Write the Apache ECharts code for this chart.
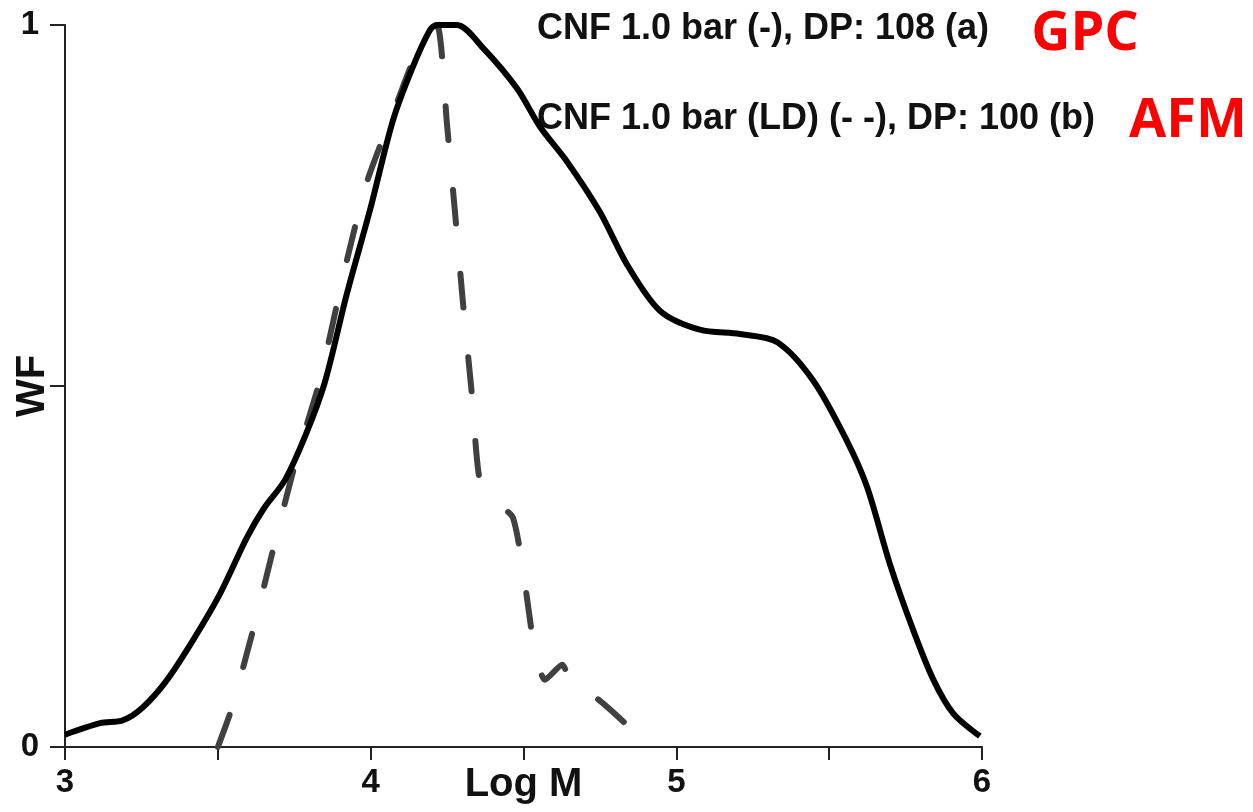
<!DOCTYPE html>
<html>
<head>
<meta charset="utf-8">
<script src="https://cdn.jsdelivr.net/npm/echarts@6/dist/echarts.min.js"></script>
<style>
  html, body { margin: 0; padding: 0; background: #fff; }
  #main { width: 1253px; height: 812px; }
</style>
</head>
<body>
<div id="main"></div>
<script>
// GPC curve (solid)
var gpcLogM = [3.000, 3.115, 3.190, 3.255, 3.334, 3.419, 3.507, 3.595, 3.650, 3.720, 3.790, 3.850,
  3.923, 3.998, 4.073, 4.138, 4.194, 4.217, 4.282, 4.368, 4.479, 4.554, 4.642, 4.750, 4.839,
  4.947, 5.077, 5.208, 5.329, 5.447, 5.558, 5.624, 5.699, 5.774, 5.840, 5.905, 5.993];
var gpcWF = [0.017, 0.033, 0.037, 0.055, 0.093, 0.148, 0.212, 0.290, 0.330, 0.370, 0.435, 0.505,
  0.629, 0.744, 0.868, 0.942, 0.993, 1.000, 1.000, 0.968, 0.912, 0.859, 0.811, 0.741, 0.668,
  0.604, 0.578, 0.572, 0.561, 0.508, 0.424, 0.360, 0.253, 0.163, 0.094, 0.047, 0.015];

// AFM curve (dashed)
var afmLogM = [3.500, 3.546, 3.622, 3.694, 3.759, 3.834, 3.916, 3.988, 4.089, 4.161, 4.217,
  4.250, 4.276, 4.302, 4.332, 4.364, 4.466, 4.538, 4.570, 4.626, 4.668, 4.734, 4.832];
var afmWF = [0.000, 0.054, 0.173, 0.296, 0.402, 0.508, 0.663, 0.783, 0.896, 0.972, 1.000,
  0.861, 0.740, 0.615, 0.485, 0.356, 0.317, 0.130, 0.093, 0.114, 0.076, 0.069, 0.033];

var xTickLabels = [3, 4, 5, 6];
var yTickLabels = [0, 1];
var legendA = 'CNF 1.0 bar (-), DP: 108 (a)';
var legendB = 'CNF 1.0 bar (LD) (- -), DP: 100 (b)';
var tagA = 'GPC';
var tagB = 'AFM';

function pairs(xs, ys) {
  var out = [];
  for (var i = 0; i < xs.length; i++) out.push([xs[i], ys[i]]);
  return out;
}

var FONT = '"Liberation Sans", Arial, sans-serif';
var myChart = echarts.init(document.getElementById('main'));

var option = {
  animation: false,
  grid: { left: 65, right: 271, top: 25, bottom: 65, containLabel: false, outerBoundsMode: 'none' },
  xAxis: {
    type: 'value', min: 3, max: 6, interval: 0.5,
    name: 'Log M', nameLocation: 'middle', nameGap: 18, nameMoveOverlap: false,
    nameTextStyle: { fontFamily: FONT, fontWeight: 'bold', fontSize: 40, color: '#111', verticalAlign: 'top' },
    axisLine: { lineStyle: { color: '#222', width: 2 } },
    axisTick: { length: 13, lineStyle: { color: '#222', width: 2 } },
    splitLine: { show: false },
    axisLabel: {
      margin: 19, fontFamily: FONT, fontWeight: 'bold', fontSize: 33, color: '#111',
      formatter: function (v) { return xTickLabels.indexOf(v) >= 0 ? String(v) : ''; }
    }
  },
  yAxis: {
    type: 'value', min: 0, max: 1, interval: 0.5,
    name: 'WF', nameLocation: 'middle', nameGap: 12, nameRotate: 90, nameMoveOverlap: false,
    nameTextStyle: { fontFamily: FONT, fontWeight: 'bold', fontSize: 40, color: '#111' },
    axisLine: { show: true, lineStyle: { color: '#222', width: 2 } },
    axisTick: { show: true, length: 15, lineStyle: { color: '#222', width: 2 } },
    splitLine: { show: false },
    axisLabel: {
      margin: 26, fontFamily: FONT, fontWeight: 'bold', fontSize: 33, color: '#111',
      formatter: function (v) { return yTickLabels.indexOf(v) >= 0 ? String(v) : ''; }
    }
  },
  series: [
    {
      name: tagA, type: 'line', data: pairs(gpcLogM, gpcWF),
      smooth: 0.3, showSymbol: false, z: 3,
      lineStyle: { color: '#000', width: 6 }
    },
    {
      name: tagB, type: 'line', data: pairs(afmLogM, afmWF),
      smooth: 0.2, showSymbol: false, z: 2,
      lineStyle: { color: '#404040', width: 6, type: [34, 50], cap: 'round' }
    }
  ],
  graphic: [
    { type: 'text', x: 537, y: 29, style: { text: legendA, font: 'bold 36px ' + FONT, fill: '#111', align: 'left', verticalAlign: 'middle' } },
    { type: 'text', x: 537, y: 119, style: { text: legendB, font: 'bold 36px ' + FONT, fill: '#111', align: 'left', verticalAlign: 'middle' } },
    { type: 'text', x: 1085, y: 35, style: { text: tagA, font: 'bold 54px "Open Sans", sans-serif', fill: '#ff0000', align: 'center', verticalAlign: 'middle' } },
    { type: 'text', x: 1188, y: 122, style: { text: tagB, font: 'bold 54px "Open Sans", sans-serif', fill: '#ff0000', align: 'center', verticalAlign: 'middle' } }
  ]
};

myChart.setOption(option);
window.addEventListener('resize', function () { myChart.resize(); });
</script>
</body>
</html>
